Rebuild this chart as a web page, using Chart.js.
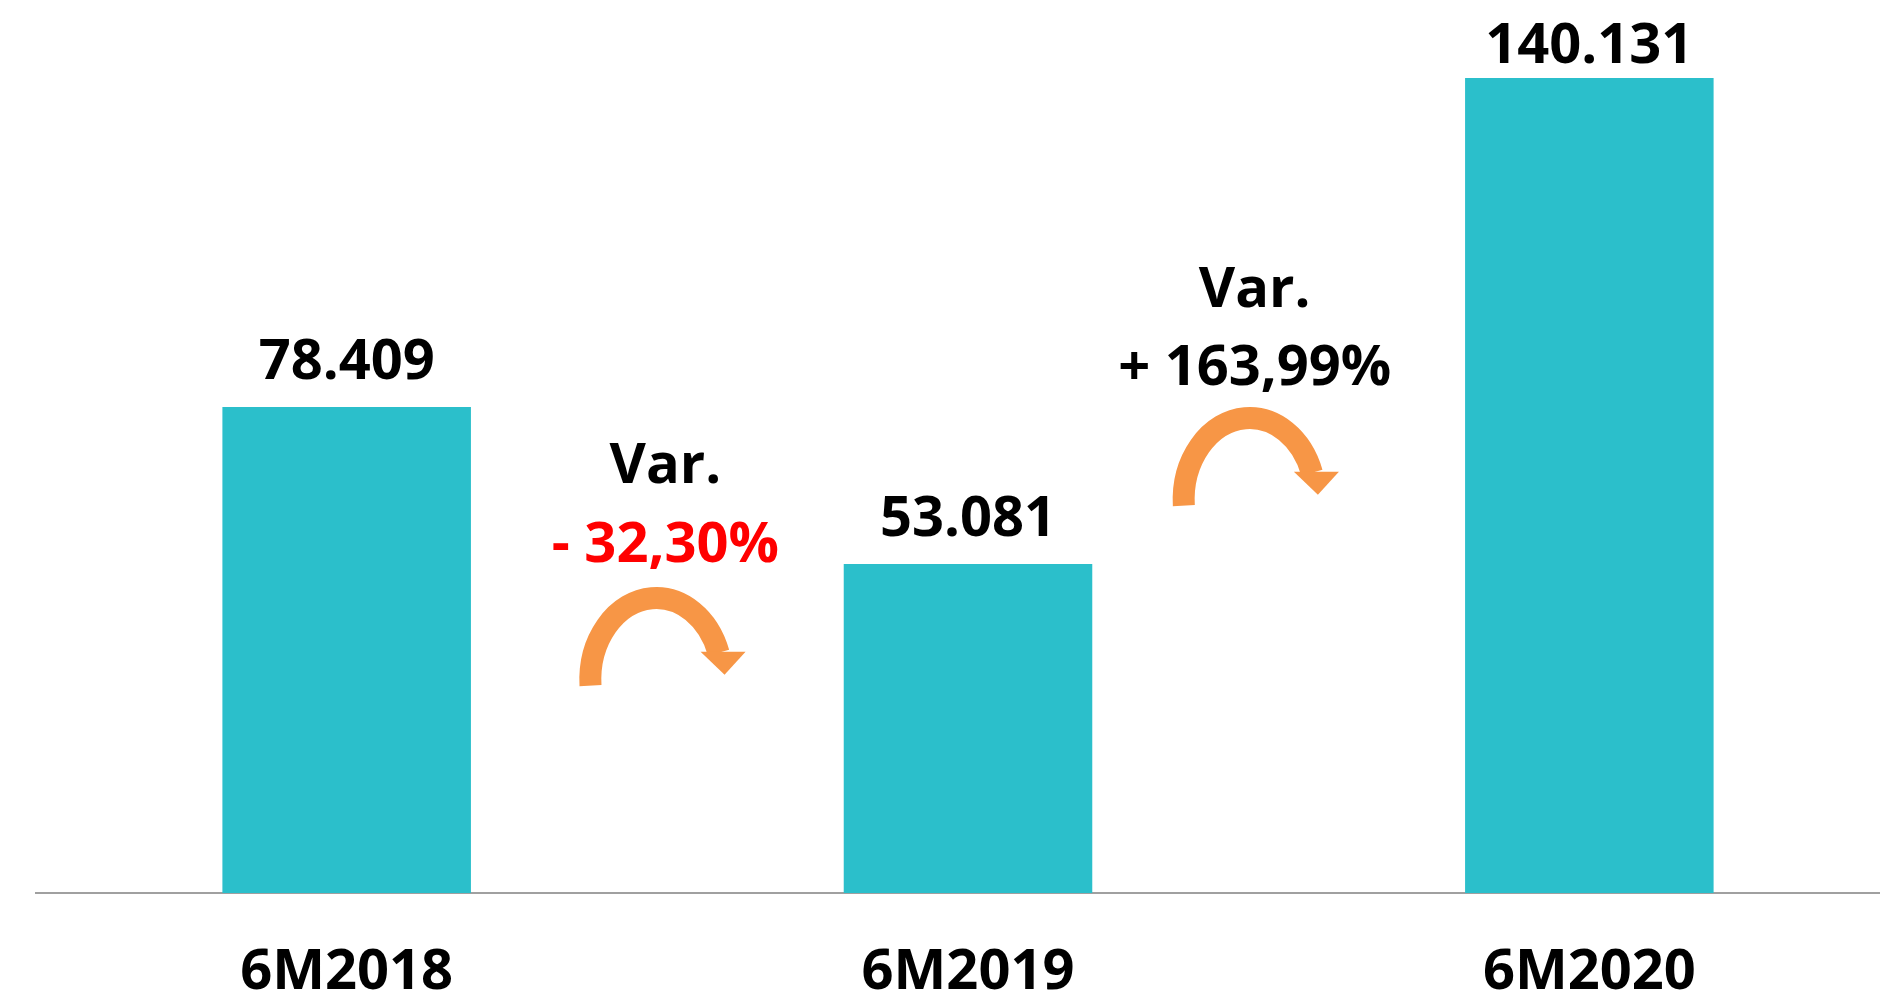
<!DOCTYPE html>
<html>
<head>
<meta charset="utf-8">
<script src="https://cdn.jsdelivr.net/npm/chart.js@4/dist/chart.umd.min.js"></script>
<style>
  html, body { margin: 0; padding: 0; background: #fff; overflow: hidden; }
  #wrap { position: absolute; left: 0; top: 0; width: 1900px; height: 1001px; }
</style>
</head>
<body>
<div id="wrap"><canvas id="chart"></canvas></div>
<script>
const categories = ['6M2018', '6M2019', '6M2020'];
const values = [78409, 53081, 140131];
const axisMax = 131500; // value axis is cut below the last bar, as in the original

const FONT = '"Open Sans", "Liberation Sans", sans-serif';
const barColor = '#2BBFCB';
const arrowColor = '#F79646';

function fmtThousands(n) {
  return n.toString().replace(/\B(?=(\d{3})+(?!\d))/g, '.');
}

function fmtVar(a, b) {
  const pct = (b - a) / a * 100;
  const sign = pct < 0 ? '- ' : '+ ';
  return sign + Math.abs(pct).toFixed(2).replace('.', ',') + '%';
}

// placement of the "Var." notes between two bars
const notes = [
  { from: 0, to: 1, textDx: 8, varY: 483, pctY: 562, arrowDx: -1, arrowCy: 680 },
  { from: 1, to: 2, textDx: -24, varY: 307, pctY: 385, arrowDx: -29, arrowCy: 500 }
];

const labelsPlugin = {
  id: 'barLabels',
  afterDatasetsDraw(chart) {
    const ctx = chart.ctx;
    const area = chart.chartArea;
    const meta = chart.getDatasetMeta(0);
    ctx.save();
    ctx.font = 'bold 56px ' + FONT;
    ctx.fillStyle = '#000';
    ctx.textAlign = 'center';
    ctx.textBaseline = 'alphabetic';
    meta.data.forEach((bar, i) => {
      const clipped = bar.y < area.top;
      const y = clipped ? area.top - 15 : bar.y - 28;
      ctx.fillText(fmtThousands(values[i]), bar.x, y);
    });
    ctx.restore();
  }
};

function drawArrow(ctx, cx, cy) {
  const rx = 66, ry = 82;
  const a0 = Math.PI - 0.07, a1 = 2 * Math.PI - 0.34;
  ctx.save();
  ctx.strokeStyle = arrowColor;
  ctx.fillStyle = arrowColor;
  ctx.lineWidth = 22;
  ctx.lineCap = 'butt';
  ctx.beginPath();
  ctx.ellipse(cx, cy, rx, ry, 0, a0, a1, false);
  ctx.stroke();
  const ex = cx + rx * Math.cos(a1);
  const ey = cy + ry * Math.sin(a1);
  ctx.beginPath();
  ctx.moveTo(ex - 18, ey - 1);
  ctx.lineTo(ex + 27, ey - 1);
  ctx.lineTo(ex + 6, ey + 22);
  ctx.closePath();
  ctx.fill();
  ctx.restore();
}

const notesPlugin = {
  id: 'varNotes',
  afterDraw(chart) {
    const ctx = chart.ctx;
    const meta = chart.getDatasetMeta(0);
    notes.forEach(n => {
      const mid = (meta.data[n.from].x + meta.data[n.to].x) / 2;
      const a = values[n.from], b = values[n.to];
      ctx.save();
      ctx.font = 'bold 56px ' + FONT;
      ctx.textAlign = 'center';
      ctx.textBaseline = 'alphabetic';
      ctx.fillStyle = '#000';
      ctx.fillText('Var.', mid + n.textDx, n.varY);
      ctx.fillStyle = b < a ? '#FF0000' : '#000';
      ctx.fillText(fmtVar(a, b), mid + n.textDx, n.pctY);
      ctx.restore();
      drawArrow(ctx, mid + n.arrowDx, n.arrowCy);
    });
  }
};

new Chart(document.getElementById('chart'), {
  type: 'bar',
  data: {
    labels: categories,
    datasets: [{
      data: values,
      backgroundColor: barColor,
      borderWidth: 0,
      categoryPercentage: 1,
      barPercentage: 0.4,
      clip: 0
    }]
  },
  options: {
    responsive: true,
    maintainAspectRatio: false,
    animation: false,
    // tick padding is counted twice when the axis is sized, so pull the bottom back
    layout: { padding: { left: 36, right: 0, top: 78, bottom: -52 } },
    plugins: {
      legend: { display: false },
      tooltip: { enabled: false }
    },
    scales: {
      x: {
        grid: { display: false, drawTicks: false },
        border: { display: true, color: '#A0A0A0', width: 2 },
        ticks: {
          color: '#000',
          padding: 52,
          font: { family: FONT, size: 56, weight: 'bold', lineHeight: 1 }
        }
      },
      y: {
        display: false,
        min: 0,
        max: axisMax
      }
    }
  },
  plugins: [labelsPlugin, notesPlugin]
});
</script>
</body>
</html>
